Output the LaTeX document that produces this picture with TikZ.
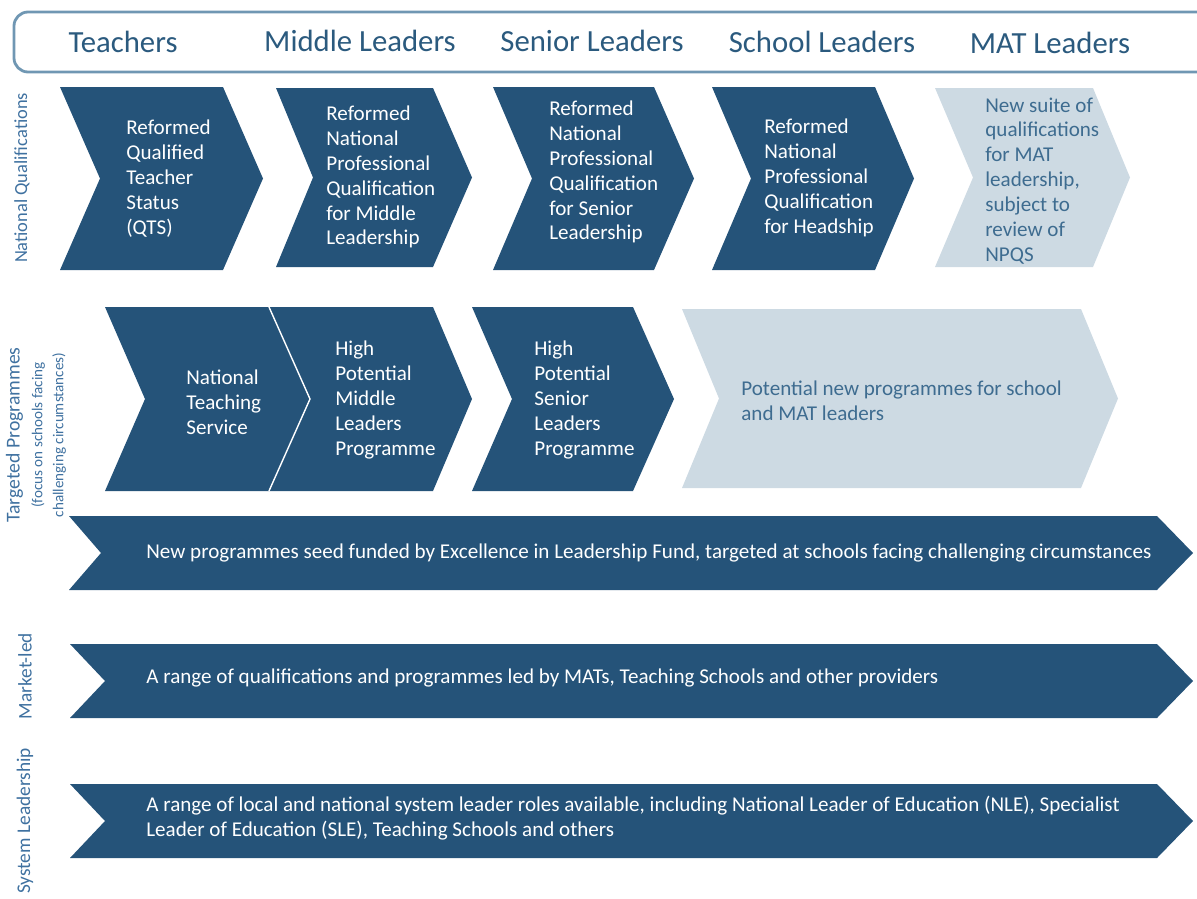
\documentclass[tikz,border=0pt]{standalone}
\usepackage{fontspec}
\setmainfont{Carlito}
\definecolor{chevdark}{HTML}{255379}
\definecolor{chevlight}{HTML}{CDDAE3}
\definecolor{headline}{HTML}{7097B3}
\definecolor{headtxt}{HTML}{2B5A7E}
\definecolor{lighttxt}{HTML}{3E6C90}
\definecolor{sidetxt}{HTML}{3F71A0}
\tikzset{
  darkchev/.style={fill=chevdark},
  lightchev/.style={fill=chevlight},
  chevtext/.style={text=white, align=left, anchor=west, inner sep=0pt,
    font=\fontsize{12}{14.2}\selectfont},
  lightchevtext/.style={chevtext, text=lighttxt},
  headtext/.style={text=headtxt, font=\fontsize{17.5}{20}\selectfont},
  sidelabel/.style={rotate=90, text=sidetxt, align=center, inner sep=0pt,
    font=\fontsize{10.5}{12}\selectfont}
}
% chevron: left, notch, right, tip, top, bottom
\newcommand{\chevron}[7][darkchev]{%
  \fill[#1] (#2,#6) -- (#4,#6) -- (#5,{(#6+#7)/2}) -- (#4,#7) -- (#2,#7)
    -- (#3,{(#6+#7)/2}) -- cycle;}
\begin{document}
\begin{tikzpicture}[x=0.02cm, y=-0.02cm]
	\useasboundingbox (0,0) rectangle (1197,899);

	% Header
	\draw[headline, line width=1.6pt, rounded corners=8]
		(1197,12) -- (14,12) -- (14,72) -- (1197,72);
	\node[headtext] (teachers) at (123,42) {Teachers};
	\node[headtext] (middle) at (360,41) {Middle Leaders};
	\node[headtext] (senior) at (592,41) {Senior Leaders};
	\node[headtext] (school) at (822,42) {School Leaders};
	\node[headtext] (mat) at (1050,43) {MAT Leaders};

	% Side labels
	\node[sidelabel] (natqual) at (22,178) {National Qualifications};
	\node[sidelabel] (targeted) at (36,435) {\fontsize{11.2}{12}\selectfont Targeted Programmes\\[1pt]
		{\fontsize{8.6}{10.5}\selectfont (focus on schools facing}\\
		{\fontsize{8.6}{10.5}\selectfont challenging circumstances)}};
	\node[sidelabel, font=\fontsize{11}{12}\selectfont] (market) at (25,676) {Market-led};
	\node[sidelabel, font=\fontsize{11}{12}\selectfont] (system) at (25,821) {System Leadership};

	% National qualifications
	\chevron{60}{100}{223}{263}{87}{270}
	\chevron{276}{313}{433}{472}{88}{267}
	\chevron{493}{532}{654}{694}{87}{270}
	\chevron{712}{751}{875}{914}{87}{270}
	\chevron[lightchev]{935}{973}{1093}{1130}{88}{267}
	\node[chevtext] (qts) at (126,179) {Reformed\\Qualified\\Teacher\\Status\\(QTS)};
	\node[chevtext] (npqml) at (326,177) {Reformed\\National\\Professional\\Qualification\\for Middle\\Leadership};
	\node[chevtext] (npqsl) at (549,172) {Reformed\\National\\Professional\\Qualification\\for Senior\\Leadership};
	\node[chevtext] (npqh) at (764,178) {Reformed\\National\\Professional\\Qualification\\for Headship};
	\node[lightchevtext] (matqual) at (985,181) {New suite of\\qualifications\\for MAT\\leadership,\\subject to\\review of\\NPQS};

	% Targeted programmes
	\chevron{105}{145}{269}{310}{307}{491}
	\chevron{269}{310}{433}{472}{307}{491}
	\draw[white, line width=0.8pt] (269,307) -- (310,399) -- (269,491);
	\chevron{472}{512}{633}{674}{307}{491}
	\chevron[lightchev]{682}{719}{1081}{1118}{309}{488}
	\node[chevtext] (nts) at (186,402) {National\\Teaching\\Service};
	\node[chevtext] (hpml) at (335,400) {High\\Potential\\Middle\\Leaders\\Programme};
	\node[chevtext] (hpsl) at (534,400) {High\\Potential\\Senior\\Leaders\\Programme};
	\node[lightchevtext] (newprog) at (741,401) {Potential new programmes for school\\and MAT leaders};

	% Long banners
	\chevron{69}{101}{1157}{1193}{516}{590}
	\chevron{70}{105}{1157}{1193}{644}{718}
	\chevron{70}{105}{1157}{1193}{784}{858}
	\node[chevtext] (fund) at (146,553) {New programmes seed funded by Excellence in Leadership Fund, targeted at schools facing challenging circumstances};
	\node[chevtext] (marketled) at (146,678) {A range of qualifications and programmes led by MATs, Teaching Schools and other providers};
	\node[chevtext] (sysroles) at (146,818) {A range of local and national system leader roles available, including National Leader of Education (NLE), Specialist\\Leader of Education (SLE), Teaching Schools and others};
\end{tikzpicture}
\end{document}
